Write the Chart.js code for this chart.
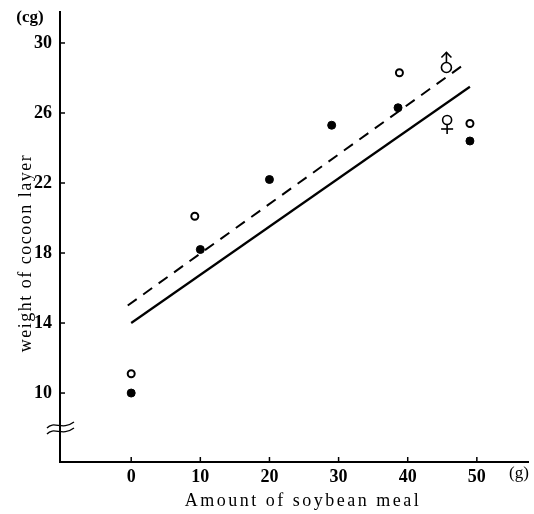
<!DOCTYPE html>
<html>
<head>
<meta charset="utf-8">
<script src="https://cdn.jsdelivr.net/npm/chart.js@4"></script>
<style>
  html, body { margin: 0; padding: 0; background: #fff; }
  #wrap { width: 534px; height: 514px; }
</style>
</head>
<body>
<div id="wrap"><canvas id="c" width="534" height="514"></canvas></div>
<script>
// values
let xTicks = [0, 10, 20, 30, 40, 50]
let yTicks = [10, 14, 18, 22, 26, 30]

// female (filled) and male (open) points
let femaleX = [0, 10, 20, 29, 38.6, 49]
let femaleY = [10.0, 18.2, 22.2, 25.3, 26.3, 24.4]
let maleX = [0, 9.2, 38.8, 49]
let maleY = [11.1, 20.1, 28.3, 25.4]

// regression lines, end points
let femaleLineX = [0, 49]
let femaleLineY = [14.0, 27.5]
let maleLineX = [-0.5, 48.6]
let maleLineY = [15.0, 28.9]

let xTitle = 'Amount of soybean meal'
let yTitle = 'weight of cocoon layer'
let yUnit = '(cg)'
let xUnit = '(g)'

const pts = (xs, ys) => xs.map((x, i) => ({x: x, y: ys[i]}))
const serif = '"Liberation Serif", "DejaVu Serif", serif'

// male sign with arrow straight up, female sign
function maleSign(ctx, cx, cy) {
  ctx.beginPath(); ctx.arc(cx, cy, 5, 0, Math.PI * 2); ctx.stroke()
  ctx.beginPath(); ctx.moveTo(cx, cy - 5); ctx.lineTo(cx, cy - 15); ctx.stroke()
  ctx.beginPath(); ctx.moveTo(cx - 5, cy - 10); ctx.lineTo(cx, cy - 15); ctx.lineTo(cx + 5, cy - 10); ctx.stroke()
}
function femaleSign(ctx, cx, cy) {
  ctx.beginPath(); ctx.arc(cx, cy, 4.5, 0, Math.PI * 2); ctx.stroke()
  ctx.beginPath(); ctx.moveTo(cx, cy + 4.5); ctx.lineTo(cx, cy + 14); ctx.stroke()
  ctx.beginPath(); ctx.moveTo(cx - 6, cy + 9); ctx.lineTo(cx + 6, cy + 9); ctx.stroke()
}

const extras = {
  id: 'extras',
  afterDraw(chart) {
    let ctx = chart.ctx
    let xs = chart.scales.x, ys = chart.scales.y
    let area = chart.chartArea
    ctx.save()
    ctx.strokeStyle = '#000'
    ctx.fillStyle = '#000'
    ctx.lineWidth = 1.5
    // inward tick marks
    xs.ticks.forEach(t => {
      let px = xs.getPixelForValue(t.value)
      ctx.beginPath(); ctx.moveTo(px, area.bottom); ctx.lineTo(px, area.bottom - 5); ctx.stroke()
    })
    ys.ticks.forEach(t => {
      let py = ys.getPixelForValue(t.value)
      ctx.beginPath(); ctx.moveTo(area.left, py); ctx.lineTo(area.left + 5, py); ctx.stroke()
    })
    // axis break
    let by = ys.getPixelForValue(8.0)
    ctx.lineWidth = 1.3
    for (let k = -1; k <= 1; k += 2) {
      let yy = by + k * 3
      ctx.beginPath()
      ctx.moveTo(area.left - 13, yy + 3)
      ctx.bezierCurveTo(area.left - 6, yy - 5, area.left + 2, yy + 6, area.left + 14, yy - 3)
      ctx.stroke()
    }
    // sex symbols
    ctx.lineWidth = 1.6
    maleSign(ctx, xs.getPixelForValue(45.6), ys.getPixelForValue(28.6))
    femaleSign(ctx, xs.getPixelForValue(45.7), ys.getPixelForValue(25.6))
    // units
    ctx.font = 'bold 17px ' + serif
    ctx.textAlign = 'center'
    ctx.textBaseline = 'middle'
    ctx.fillText(yUnit, 30, 18)
    ctx.font = '17px ' + serif
    ctx.fillText(xUnit, 519, 474)
    // axis titles
    ctx.font = '18px ' + serif
    ctx.letterSpacing = '2.5px'
    ctx.fillText(xTitle, 303, 501)
    ctx.save()
    ctx.translate(26, 253)
    ctx.rotate(-Math.PI / 2)
    ctx.letterSpacing = '1.5px'
    ctx.fillText(yTitle, 0, 0)
    ctx.restore()
    ctx.restore()
  }
}

new Chart(document.getElementById('c'), {
  type: 'scatter',
  data: {
    datasets: [
      {
        type: 'line', data: pts(maleLineX, maleLineY), borderColor: '#000',
        borderWidth: 2, borderDash: [11, 8], pointRadius: 0, fill: false
      },
      {
        type: 'line', data: pts(femaleLineX, femaleLineY), borderColor: '#000',
        borderWidth: 2.2, pointRadius: 0, fill: false
      },
      {
        data: pts(maleX, maleY), pointStyle: 'circle', pointRadius: 3.5,
        backgroundColor: '#fff', borderColor: '#000', borderWidth: 2
      },
      {
        data: pts(femaleX, femaleY), pointStyle: 'circle', pointRadius: 4,
        backgroundColor: '#000', borderColor: '#000', borderWidth: 1
      }
    ]
  },
  options: {
    responsive: false,
    animation: false,
    layout: {padding: {top: 12, right: 0, left: 0, bottom: 0}},
    plugins: {legend: {display: false}, tooltip: {enabled: false}},
    scales: {
      x: {
        type: 'linear', min: -10.3, max: 57.4,
        afterBuildTicks: s => { s.ticks = xTicks.map(v => ({value: v})) },
        afterFit: s => { s.height = 52; s.paddingLeft = 0; s.paddingRight = 0 },
        grid: {display: true, drawOnChartArea: false, drawTicks: false},
        border: {display: true, color: '#000', width: 2},
        ticks: {color: '#000', padding: 5, font: {family: serif, size: 18, weight: 'bold'}}
      },
      y: {
        type: 'linear', min: 6.06, max: 31.77,
        afterBuildTicks: s => { s.ticks = yTicks.map(v => ({value: v})) },
        afterFit: s => { s.width = 60; s.paddingTop = 0; s.paddingBottom = 0 },
        grid: {display: true, drawOnChartArea: false, drawTicks: false},
        border: {display: true, color: '#000', width: 2},
        ticks: {color: '#000', padding: 8, font: {family: serif, size: 18, weight: 'bold'}}
      }
    }
  },
  plugins: [extras]
})
</script>
</body>
</html>
